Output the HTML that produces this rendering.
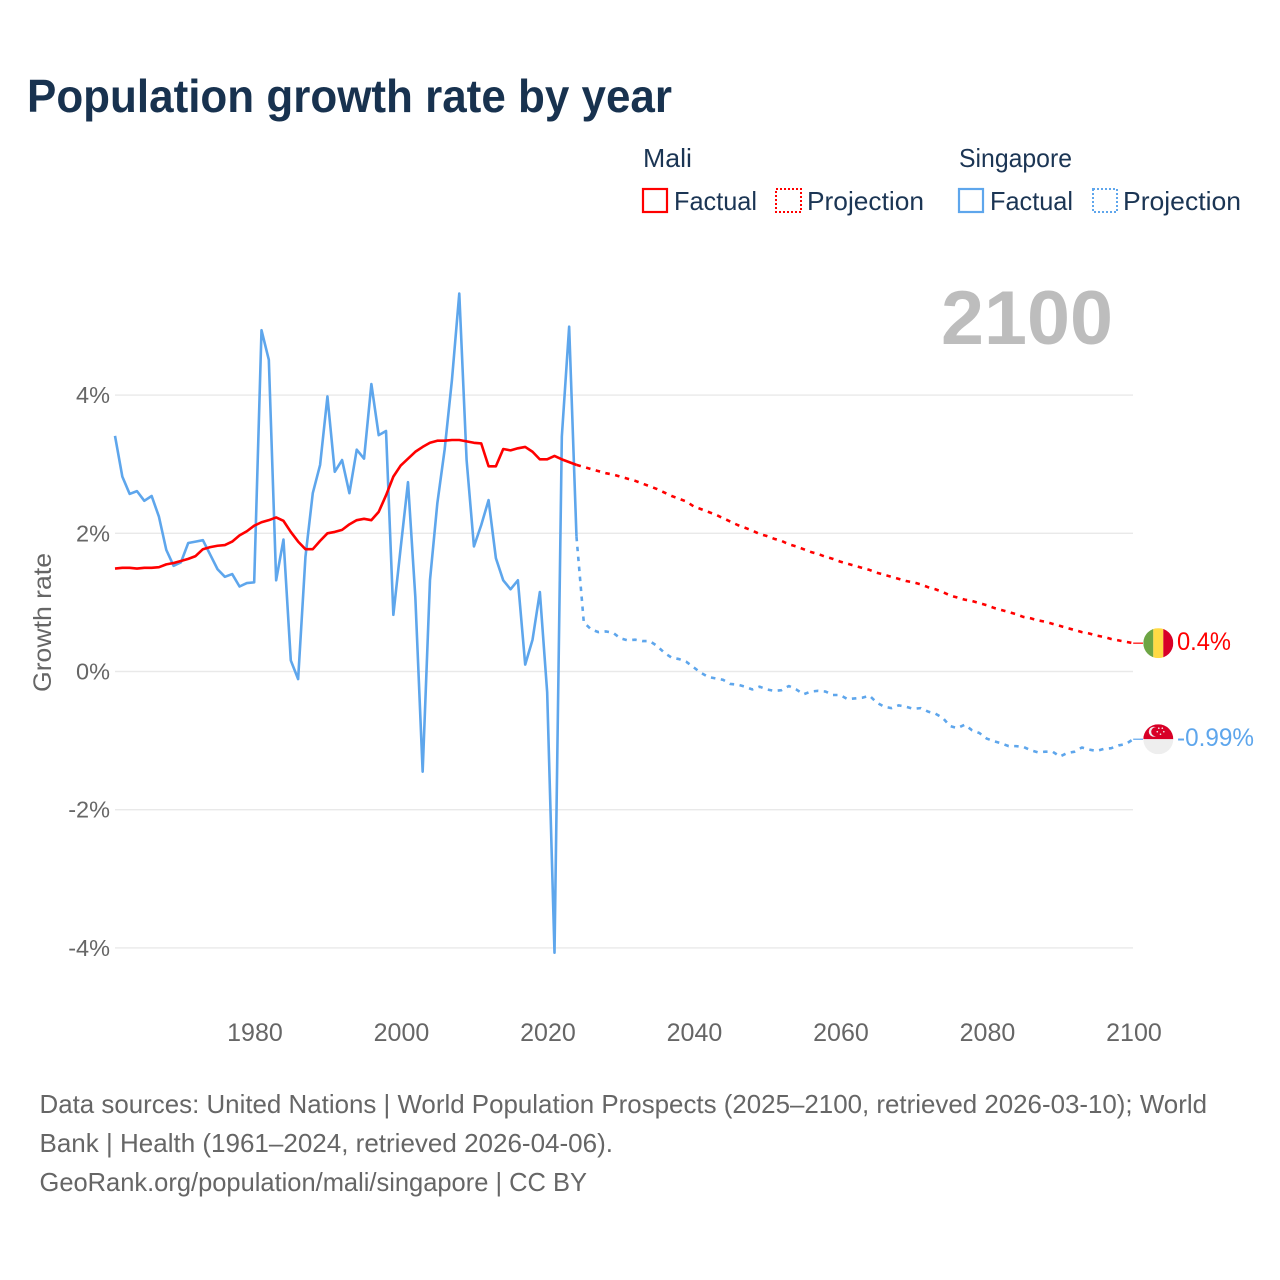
<!DOCTYPE html>
<html>
<head>
<meta charset="utf-8">
<title>Population growth rate by year</title>
<style>
html,body{margin:0;padding:0;background:#fff}
svg{display:block;font-family:"Liberation Sans",sans-serif}
</style>
</head>
<body>
<svg id="chart" xmlns="http://www.w3.org/2000/svg" width="1280" height="1280" viewBox="0 0 1280 1280">
  <rect x="0" y="0" width="1280" height="1280" fill="#fff"/>
  <text x="27" y="112" font-size="46" font-weight="700" fill="#18324f" textLength="645" lengthAdjust="spacingAndGlyphs">Population growth rate by year</text>

  <g font-size="26" fill="#1b3554">
    <text x="643" y="167" textLength="49" lengthAdjust="spacingAndGlyphs">Mali</text>
    <rect x="643" y="189" width="24" height="23" fill="none" stroke="#ff0000" stroke-width="2.2"/>
    <text x="674" y="210" textLength="83" lengthAdjust="spacingAndGlyphs">Factual</text>
    <rect x="776" y="189" width="25" height="23" fill="none" stroke="#ff0000" stroke-width="2" stroke-dasharray="2 2"/>
    <text x="807" y="210" textLength="117" lengthAdjust="spacingAndGlyphs">Projection</text>

    <text x="959" y="167" textLength="113" lengthAdjust="spacingAndGlyphs">Singapore</text>
    <rect x="959" y="189" width="24" height="23" fill="none" stroke="#5ea6ec" stroke-width="2.2"/>
    <text x="990" y="210" textLength="83" lengthAdjust="spacingAndGlyphs">Factual</text>
    <rect x="1093" y="189" width="24" height="23" fill="none" stroke="#5ea6ec" stroke-width="2" stroke-dasharray="2 2"/>
    <text x="1123" y="210" textLength="118" lengthAdjust="spacingAndGlyphs">Projection</text>
  </g>

  <text x="941" y="344" font-size="76" font-weight="700" fill="#bdbdbd" textLength="172" lengthAdjust="spacingAndGlyphs">2100</text>

  <text transform="translate(51,692) rotate(-90)" font-size="25" fill="#666666" textLength="139" lengthAdjust="spacingAndGlyphs">Growth rate</text>

  <g id="grid"></g>
  <g id="y-ticks"></g>
  <g id="x-ticks"></g>
  <g id="series"></g>

  <defs>
    <clipPath id="flag-clip"><circle cx="0" cy="0" r="15"/></clipPath>
  </defs>
  <g id="flag-mali">
    <g clip-path="url(#flag-clip)">
      <rect x="-15" y="-15" width="10" height="30" fill="#6da544"/>
      <rect x="-5" y="-15" width="10" height="30" fill="#ffda44"/>
      <rect x="5" y="-15" width="10" height="30" fill="#d80027"/>
    </g>
  </g>
  <g id="flag-singapore">
    <g clip-path="url(#flag-clip)">
      <rect x="-15" y="-15" width="30" height="15" fill="#d80027"/>
      <rect x="-15" y="0" width="30" height="15" fill="#eeeeee"/>
      <circle cx="-4.5" cy="-7.5" r="5" fill="#eeeeee"/>
      <circle cx="-2.5" cy="-7.5" r="4.6" fill="#d80027"/>
      <circle cx="0.5" cy="-11" r="0.8" fill="#eeeeee"/>
      <circle cx="4" cy="-11" r="0.8" fill="#eeeeee"/>
      <circle cx="5.5" cy="-7.5" r="0.8" fill="#eeeeee"/>
      <circle cx="2.2" cy="-5" r="0.8" fill="#eeeeee"/>
      <circle cx="-1" cy="-7.5" r="0.8" fill="#eeeeee"/>
    </g>
  </g>
  <text id="label-mali" x="1177" font-size="25" fill="#ff0000" textLength="54" lengthAdjust="spacingAndGlyphs"></text>
  <text id="label-singapore" x="1177" font-size="25" fill="#5ea6ec" textLength="77" lengthAdjust="spacingAndGlyphs"></text>

  <g font-size="26" fill="#666666">
    <text x="39.5" y="1113" textLength="1167.5" lengthAdjust="spacingAndGlyphs">Data sources: United Nations | World Population Prospects (2025–2100, retrieved 2026-03-10); World</text>
    <text x="39.5" y="1152" textLength="573.5" lengthAdjust="spacingAndGlyphs">Bank | Health (1961–2024, retrieved 2026-04-06).</text>
    <text x="39.5" y="1191" textLength="547.5" lengthAdjust="spacingAndGlyphs">GeoRank.org/population/mali/singapore | CC BY</text>
  </g>
</svg>

<script>
const factualStartYear = 1961;
const projectionStartYear = 2024;
const xTickYears = [1980, 2000, 2020, 2040, 2060, 2080, 2100];
const yTickValues = [4, 2, 0, -2, -4];
const yTickLabels = ["4%", "2%", "0%", "-2%", "-4%"];
const maliEndLabel = "0.4%";
const singaporeEndLabel = "-0.99%";

const maliFactual = [
  1.49,1.50,1.50,1.49,1.50,1.50,1.51,1.55,1.57,1.60,
  1.63,1.67,1.77,1.80,1.82,1.83,1.88,1.97,2.03,2.11,
  2.16,2.19,2.23,2.18,2.02,1.88,1.77,1.77,1.89,2.00,
  2.02,2.05,2.13,2.19,2.21,2.19,2.31,2.55,2.82,2.98,
  3.08,3.18,3.25,3.31,3.34,3.34,3.35,3.35,3.33,3.31,
  3.30,2.97,2.97,3.22,3.20,3.23,3.25,3.18,3.07,3.07,
  3.12,3.07,3.03,2.99
];
const singaporeFactual = [
  3.41,2.82,2.57,2.61,2.47,2.54,2.24,1.76,1.53,1.58,
  1.86,1.88,1.90,1.69,1.48,1.37,1.41,1.23,1.28,1.29,
  4.94,4.51,1.32,1.91,0.16,-0.11,1.66,2.58,2.99,3.98,
  2.89,3.06,2.58,3.21,3.08,4.16,3.42,3.48,0.82,1.79,
  2.74,1.08,-1.45,1.32,2.43,3.21,4.22,5.47,3.06,1.81,
  2.12,2.48,1.64,1.32,1.19,1.32,0.10,0.46,1.15,-0.30,
  -4.07,3.40,4.99,1.95
];
const maliProjection = [
  2.99,2.96,2.93,2.90,2.87,2.85,2.82,2.79,2.76,2.72,
  2.68,2.64,2.59,2.54,2.50,2.46,2.39,2.35,2.31,2.27,
  2.22,2.17,2.12,2.08,2.04,1.99,1.96,1.92,1.89,1.84,
  1.81,1.77,1.73,1.70,1.66,1.63,1.59,1.56,1.53,1.50,
  1.47,1.43,1.40,1.37,1.34,1.31,1.29,1.26,1.22,1.19,
  1.15,1.10,1.07,1.04,1.02,0.99,0.96,0.92,0.89,0.86,
  0.83,0.79,0.77,0.74,0.72,0.69,0.66,0.63,0.60,0.57,
  0.55,0.52,0.50,0.47,0.45,0.43,0.41
];
const singaporeProjection = [
  1.95,0.71,0.61,0.57,0.58,0.56,0.48,0.45,0.46,0.44,
  0.44,0.37,0.27,0.20,0.18,0.14,0.06,-0.02,-0.08,-0.10,
  -0.12,-0.18,-0.19,-0.22,-0.26,-0.22,-0.26,-0.28,-0.27,-0.21,
  -0.26,-0.33,-0.29,-0.28,-0.29,-0.34,-0.34,-0.40,-0.39,-0.38,
  -0.35,-0.45,-0.51,-0.53,-0.49,-0.51,-0.54,-0.53,-0.58,-0.61,
  -0.67,-0.79,-0.82,-0.77,-0.85,-0.89,-0.97,-1.01,-1.04,-1.08,
  -1.08,-1.09,-1.14,-1.17,-1.16,-1.16,-1.23,-1.18,-1.16,-1.10,
  -1.13,-1.15,-1.12,-1.11,-1.07,-1.05,-0.98
];

const NS = "http://www.w3.org/2000/svg";
function xScale(year) { return 115 + (year - 1961) * 7.325; }
function yScale(value) { return 671.5 - value * 69.1; }

function linePath(values, startYear) {
  let d = "";
  for (let i = 0; i < values.length; i++) {
    d += (i ? "L" : "M") + xScale(startYear + i).toFixed(2) + " " + yScale(values[i]).toFixed(2);
  }
  return d;
}

const gridGroup = document.getElementById("grid");
const yTickGroup = document.getElementById("y-ticks");
yTickValues.forEach(function (v, i) {
  const gl = document.createElementNS(NS, "line");
  
  
  gl.setAttribute("x1", 115);
  gl.setAttribute("x2", 1133);
  gl.setAttribute("y1", yScale(v));
  gl.setAttribute("y2", yScale(v));
  gl.setAttribute("stroke", "#e9e9e9");
  gl.setAttribute("stroke-width", "1.4");
  gridGroup.appendChild(gl);

  const t = document.createElementNS(NS, "text");
  
  
  t.setAttribute("x", 110);
  t.setAttribute("y", yScale(v) + 8);
  t.setAttribute("text-anchor", "end");
  t.setAttribute("font-size", "23.5");
  t.setAttribute("fill", "#666666");
  t.textContent = yTickLabels[i];
  yTickGroup.appendChild(t);
});

const xTickGroup = document.getElementById("x-ticks");
xTickYears.forEach(function (yr) {
  const t = document.createElementNS(NS, "text");
  
  
  t.setAttribute("x", xScale(yr) + 0.8);
  t.setAttribute("y", 1041);
  t.setAttribute("text-anchor", "middle");
  t.setAttribute("font-size", "25");
  t.setAttribute("fill", "#666666");
  t.textContent = String(yr);
  xTickGroup.appendChild(t);
});

const seriesGroup = document.getElementById("series");
function addSeries(values, startYear, color, dashed, name) {
  const p = document.createElementNS(NS, "path");
  
  
  p.setAttribute("d", linePath(values, startYear));
  p.setAttribute("fill", "none");
  p.setAttribute("stroke", color);
  p.setAttribute("stroke-width", "2.6");
  p.setAttribute("stroke-linejoin", "round");
  if (dashed) p.setAttribute("stroke-dasharray", "4.5 5.5");
  seriesGroup.appendChild(p);
}
addSeries(singaporeProjection, projectionStartYear, "#5ea6ec", true, "singapore-projection-line");
addSeries(maliProjection, projectionStartYear, "#ff0000", true, "mali-projection-line");
addSeries(singaporeFactual, factualStartYear, "#5ea6ec", false, "singapore-factual-line");
addSeries(maliFactual, factualStartYear, "#ff0000", false, "mali-factual-line");

function placeEnd(values, flagId, labelId, labelText, color, connectorName) {
  const last = values[values.length - 1];
  const y = yScale(last);
  const c = document.createElementNS(NS, "line");
  
  
  c.setAttribute("x1", xScale(2100));
  c.setAttribute("x2", 1143);
  c.setAttribute("y1", y);
  c.setAttribute("y2", y);
  c.setAttribute("stroke", color);
  c.setAttribute("stroke-width", "1.2");
  seriesGroup.appendChild(c);
  document.getElementById(flagId).setAttribute("transform", "translate(1158.3," + y + ")");
  const label = document.getElementById(labelId);
  label.setAttribute("y", y + 7);
  label.textContent = labelText;
}
placeEnd(maliProjection, "flag-mali", "label-mali", maliEndLabel, "#ff0000", "mali-end-connector");
placeEnd(singaporeProjection, "flag-singapore", "label-singapore", singaporeEndLabel, "#5ea6ec", "singapore-end-connector");
</script>
</body>
</html>
